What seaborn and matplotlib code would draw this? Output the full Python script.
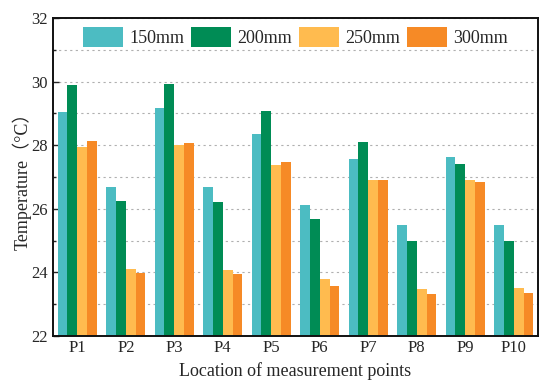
import pandas as pd
import seaborn as sns
import matplotlib.pyplot as plt
from matplotlib.ticker import MultipleLocator

points = ['P1', 'P2', 'P3', 'P4', 'P5', 'P6', 'P7', 'P8', 'P9', 'P10']
depths = ['150mm', '200mm', '250mm', '300mm']
t150 = [29.05, 26.69, 29.16, 26.67, 28.34, 26.11, 27.56, 25.48, 27.62, 25.50]
t200 = [29.89, 26.25, 29.92, 26.20, 29.08, 25.67, 28.11, 25.00, 27.41, 24.98]
t250 = [27.95, 24.11, 28.00, 24.09, 27.38, 23.78, 26.90, 23.48, 26.90, 23.51]
t300 = [28.14, 23.98, 28.07, 23.96, 27.46, 23.57, 26.90, 23.31, 26.85, 23.34]
colors = ['#4cbcc2', '#008c55', '#ffbb4f', '#f68a26']

# long-form table for seaborn
df = pd.DataFrame({
    'Point': points * 4,
    'Depth': [d for d in depths for _ in points],
    'Temp': t150 + t200 + t250 + t300,
})

sns.set_style('ticks')
plt.rcParams['font.family'] = ['Liberation Serif', 'Noto Sans CJK SC']

fig = plt.figure(figsize=(5.5, 3.87), dpi=100)
ax = fig.add_axes([0.0964, 0.1318, 0.8818, 0.8217])

sns.barplot(data=df, x='Point', y='Temp', hue='Depth', palette=colors,
            width=0.81, gap=0, ax=ax, saturation=1, linewidth=0, zorder=2)

ax.set_ylim(22, 32)
ax.set_xlim(-0.5, 9.5)
ax.yaxis.set_major_locator(MultipleLocator(2))
ax.yaxis.set_minor_locator(MultipleLocator(1))
ax.grid(axis='y', which='both', linestyle=(0, (2, 3)), color='#b0b0b0', lw=0.8, zorder=0)
ax.set_axisbelow(True)
ax.tick_params(axis='y', which='both', direction='in', labelsize=12)
ax.tick_params(axis='y', which='major', length=4, width=1)
ax.tick_params(axis='y', which='minor', length=2.5, width=1)
ax.tick_params(axis='x', length=0, labelsize=12, pad=3)
for s in ax.spines.values():
    s.set_linewidth(1.4)
    s.set_color('#111111')

ax.set_xlabel('Location of measurement points', fontsize=13, labelpad=4)
ax.set_ylabel('Temperature（°C）', fontsize=13, labelpad=0)

ax.legend(loc='upper center', ncol=4, frameon=False, fontsize=13,
          handlelength=2.2, handleheight=1.3, handletextpad=0.35,
          columnspacing=0.4, bbox_to_anchor=(0.5, 1.01), borderaxespad=0.3)

plt.savefig('out.png', dpi=100)
